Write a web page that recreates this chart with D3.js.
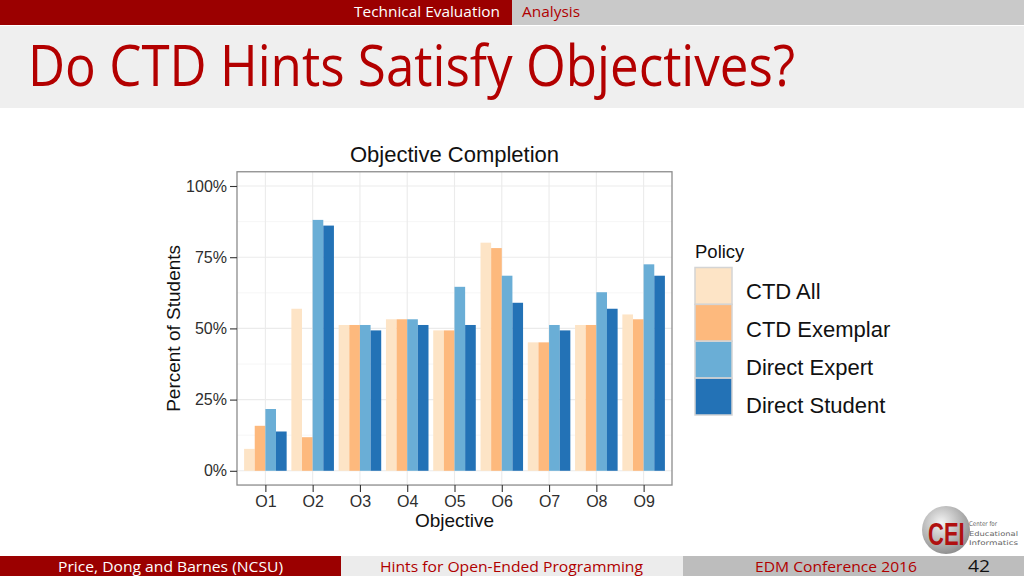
<!DOCTYPE html>
<html><head><meta charset="utf-8">
<script src="https://cdn.jsdelivr.net/npm/d3@7"></script>
<style>html,body{margin:0;padding:0;background:#fff;}svg{display:block;}</style>
</head><body>
<svg id="c" width="1024" height="576"></svg>
<script>
const categories = ["O1","O2","O3","O4","O5","O6","O7","O8","O9"];
const seriesNames = ["CTD All","CTD Exemplar","Direct Expert","Direct Student"];
const ctdAll        = [7.7, 56.9, 51.2, 53.2, 49.3, 80.1, 45.1, 51.2, 54.9];
const ctdExemplar   = [15.8, 11.8, 51.2, 53.2, 49.3, 78.2, 45.1, 51.2, 53.2];
const directExpert  = [21.7, 88.1, 51.2, 53.2, 64.6, 68.5, 51.2, 62.7, 72.5];
const directStudent = [13.8, 86.1, 49.3, 51.2, 51.2, 59.0, 49.3, 56.9, 68.5];
const yTicks = [0, 25, 50, 75, 100];
const yTickLabels = ["0%","25%","50%","75%","100%"];
const colors = ["#fde4c6","#fdb97d","#6aaed6","#2372b6"];

const seriesValues = [ctdAll, ctdExemplar, directExpert, directStudent];
const svg = d3.select("#c");
const red = "#9b0000";

// ---- slide chrome ----
svg.append("rect").attr("x",0).attr("y",0).attr("width",1024).attr("height",576).attr("fill","#fff");
svg.append("rect").attr("x",0).attr("y",0).attr("width",512).attr("height",25).attr("fill",red);
svg.append("rect").attr("x",512).attr("y",0).attr("width",512).attr("height",25).attr("fill","#c9c9c9");
svg.append("rect").attr("x",0).attr("y",26).attr("width",1024).attr("height",82).attr("fill","#efefef");
svg.append("text").attr("x",500).attr("y",16.5).attr("text-anchor","end")
  .attr("font-family","Open Sans").attr("font-size",15).attr("fill","#fff")
  .attr("textLength",146).attr("lengthAdjust","spacingAndGlyphs").text("Technical Evaluation");
svg.append("text").attr("x",522).attr("y",16.5)
  .attr("font-family","Open Sans").attr("font-size",15).attr("fill","#b00000")
  .attr("textLength",58).attr("lengthAdjust","spacingAndGlyphs").text("Analysis");
svg.append("text").attr("x",28).attr("y",86)
  .attr("font-family","Open Sans").attr("font-size",56).attr("fill","#b30000")
  .attr("textLength",767).attr("lengthAdjust","spacingAndGlyphs").text("Do CTD Hints Satisfy Objectives?");

// footer
svg.append("rect").attr("x",0).attr("y",556).attr("width",341).attr("height",20).attr("fill",red);
svg.append("rect").attr("x",341).attr("y",556).attr("width",342).attr("height",20).attr("fill","#ececec");
svg.append("rect").attr("x",683).attr("y",556).attr("width",341).attr("height",20).attr("fill","#bdbdbd");
svg.append("text").attr("x",58).attr("y",571.5).attr("font-family","Open Sans").attr("font-size",15)
  .attr("fill","#fff").attr("textLength",225).attr("lengthAdjust","spacingAndGlyphs").text("Price, Dong and Barnes (NCSU)");
svg.append("text").attr("x",380).attr("y",571.5).attr("font-family","Open Sans").attr("font-size",15)
  .attr("fill","#b00000").attr("textLength",263).attr("lengthAdjust","spacingAndGlyphs").text("Hints for Open-Ended Programming");
svg.append("text").attr("x",755).attr("y",571.5).attr("font-family","Open Sans").attr("font-size",15)
  .attr("fill","#b00000").attr("textLength",162).attr("lengthAdjust","spacingAndGlyphs").text("EDM Conference 2016");
svg.append("text").attr("x",968).attr("y",571.5).attr("font-family","Open Sans").attr("font-size",16)
  .attr("fill","#111").attr("textLength",22).attr("lengthAdjust","spacingAndGlyphs").text("42");

// logo
const defs = svg.append("defs");
const rg = defs.append("radialGradient").attr("id","lg").attr("cx","40%").attr("cy","35%").attr("r","70%");
rg.append("stop").attr("offset","0%").attr("stop-color","#f4f4f4");
rg.append("stop").attr("offset","100%").attr("stop-color","#8a8a8a");
svg.append("circle").attr("cx",946).attr("cy",530).attr("r",24).attr("fill","url(#lg)");
svg.append("text").attr("transform","translate(928,545) scale(1,1.45)").attr("x",0).attr("y",0)
  .attr("font-family","Liberation Sans").attr("font-weight","bold")
  .attr("font-size",22).attr("fill","#b01010").text("CEI");
const logoText = svg.append("text").attr("font-family","DejaVu Sans").attr("font-size",6.5).attr("fill","#666");
["Center for","Educational","Informatics"].forEach((t,i)=>{
  logoText.append("tspan").attr("x",969).attr("y",526+i*9.5)
    .attr("textLength",i==0?28:49).attr("lengthAdjust","spacingAndGlyphs").text(t);
});

// ---- chart ----
const y = d3.scaleLinear().domain([0,100]).range([470.8,186]);
const px0 = 237, px1 = 672;
const py0 = y(105), py1 = y(-5);
const x = d3.scalePoint().domain(categories).range([px0,px1]).padding(0.6);
const step = x.step();
const xs = d3.scaleBand().domain(seriesNames).range([-0.45*step, 0.45*step]).padding(0);

const g = svg.append("g");
g.append("rect").attr("x",px0).attr("y",py0).attr("width",px1-px0).attr("height",py1-py0).attr("fill","#fff");
const minorY = [12.5,37.5,62.5,87.5];
g.selectAll(".ming").data(minorY).join("line").attr("x1",px0).attr("x2",px1)
  .attr("y1",d=>y(d)).attr("y2",d=>y(d)).attr("stroke","#f4f4f4").attr("stroke-width",0.8);
g.selectAll(".majg").data(yTicks).join("line").attr("x1",px0).attr("x2",px1)
  .attr("y1",d=>y(d)).attr("y2",d=>y(d)).attr("stroke","#ebebeb").attr("stroke-width",1.1);
g.selectAll(".vg").data(categories).join("line").attr("y1",py0).attr("y2",py1)
  .attr("x1",d=>x(d)).attr("x2",d=>x(d)).attr("stroke","#ebebeb").attr("stroke-width",1.1);

seriesNames.forEach((s,si)=>{
  g.append("g").selectAll("rect").data(seriesValues[si]).join("rect")
    .attr("x",(d,i)=>x(categories[i])+xs(s))
    .attr("width",xs.bandwidth())
    .attr("y",d=>y(d)).attr("height",d=>y(0)-y(d))
    .attr("fill",colors[si]);
});
g.append("rect").attr("x",px0).attr("y",py0).attr("width",px1-px0).attr("height",py1-py0)
  .attr("fill","none").attr("stroke","#8c8c8c").attr("stroke-width",1.3);

const yAxis = d3.axisLeft(y).tickValues(yTicks).tickFormat((d,i)=>yTickLabels[i]).tickSize(7).tickPadding(3);
const ya = svg.append("g").attr("transform",`translate(${px0},0)`).call(yAxis);
const xAxis = d3.axisBottom(x).tickSize(7).tickPadding(4);
const xa = svg.append("g").attr("transform",`translate(0,${py1})`).call(xAxis);
[ya,xa].forEach(a=>{
  a.select(".domain").remove();
  a.selectAll(".tick line").attr("stroke","#333").attr("stroke-width",1.1);
  a.selectAll(".tick text").attr("font-family","Liberation Sans").attr("font-size",16).attr("fill","#2e2e2e");
});

svg.append("text").attr("x",(px0+px1)/2).attr("y",161.5).attr("text-anchor","middle")
  .attr("font-family","Liberation Sans").attr("font-size",22).attr("fill","#111").text("Objective Completion");
svg.append("text").attr("x",(px0+px1)/2).attr("y",527).attr("text-anchor","middle")
  .attr("font-family","Liberation Sans").attr("font-size",19).attr("fill","#111").text("Objective");
svg.append("text").attr("transform",`translate(180,${(py0+py1)/2}) rotate(-90)`).attr("text-anchor","middle")
  .attr("font-family","Liberation Sans").attr("font-size",19).attr("fill","#111").text("Percent of Students");

const lg = svg.append("g");
lg.append("text").attr("x",695).attr("y",258).attr("font-family","Liberation Sans").attr("font-size",18.5)
  .attr("fill","#111").text("Policy");
const ly = d3.scaleBand().domain(seriesNames).range([267.5,415]);
seriesNames.forEach((s,i)=>{
  lg.append("rect").attr("x",695).attr("y",ly(s)).attr("width",37).attr("height",ly.bandwidth())
    .attr("fill",colors[i]).attr("stroke","#d4d4d4").attr("stroke-width",1.5);
  lg.append("text").attr("x",746).attr("y",ly(s)+ly.bandwidth()/2+13+i*1.3)
    .attr("font-family","Liberation Sans").attr("font-size",22).attr("fill","#111").text(s);
});
</script>
</body></html>
